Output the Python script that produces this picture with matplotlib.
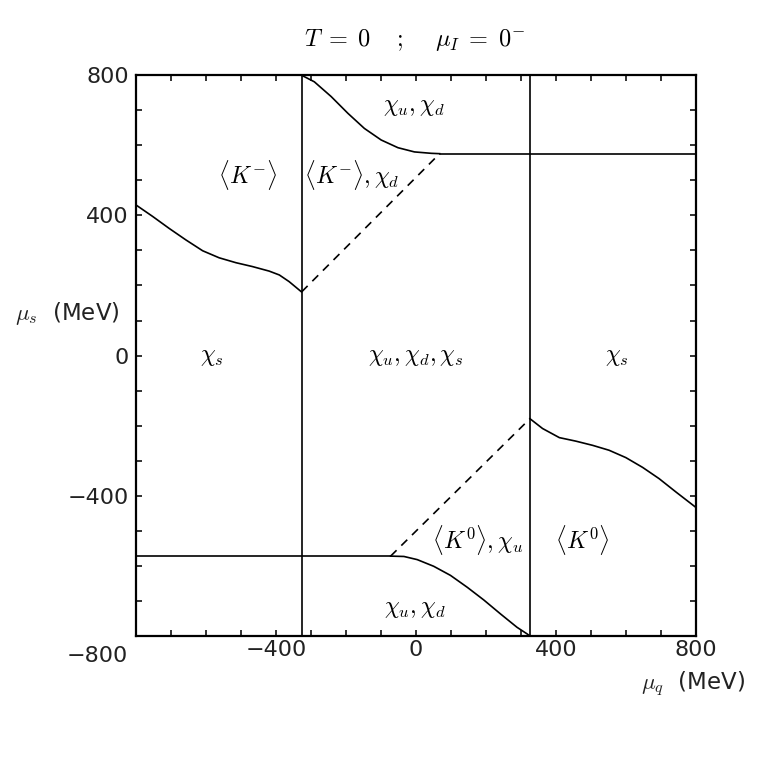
import numpy as np
import matplotlib
matplotlib.use('Agg')
import matplotlib.pyplot as plt
from matplotlib.ticker import MultipleLocator, FixedLocator

plt.rcParams['mathtext.fontset'] = 'cm'
plt.rcParams['font.family'] = ['DejaVu Sans']

# phase boundaries (MeV)
vert_x = [-326, 326]

upper_flat_x = [68, 800]
upper_flat_y = [576, 576]
lower_flat_x = [-800, -72]
lower_flat_y = [-572, -572]

# <K-> / chi_s boundary
kminus_x = [-800, -752, -705, -657, -609, -562, -514, -467, -419, -390, -362, -327]
kminus_y = [430, 397, 363, 330, 299, 279, 265, 254, 241, 230, 211, 182]

# chi_d restoration, top right of left vertical
chid_x = [-327, -290, -242, -194, -147, -99, -51, -4, 44, 68]
chid_y = [800, 781, 739, 691, 648, 615, 593, 581, 577, 576]

# <K0> / chi_s boundary
kzero_x = [326, 362, 410, 457, 505, 552, 600, 648, 695, 743, 800]
kzero_y = [-180, -208, -234, -244, -256, -270, -291, -319, -351, -389, -433]

# chi_u restoration, bottom
chiu_x = [-72, -34, 4, 51, 99, 147, 194, 242, 289, 318, 326]
chiu_y = [-572, -573, -582, -601, -627, -661, -697, -737, -775, -794, -800]

# dashed first-order lines
dash_top_x = [-326, 68]
dash_top_y = [182, 576]
dash_bot_x = [-72, 326]
dash_bot_y = [-572, -180]

region_labels = [
    (r'$\langle K^{-}\rangle$', -480, 516),
    (r'$\langle K^{-}\rangle,\chi_d$', -184, 516),
    (r'$\chi_u,\chi_d$', -6, 711),
    (r'$\chi_s$', -583, 0),
    (r'$\chi_u,\chi_d,\chi_s$', 0, 0),
    (r'$\chi_s$', 574, 0),
    (r'$\langle K^{0}\rangle,\chi_u$', 177, -527),
    (r'$\langle K^{0}\rangle$', 475, -527),
    (r'$\chi_u,\chi_d$', -3, -721),
]

xticks = [-400, 0, 400, 800]
yticks = [-400, 0, 400, 800]

fig = plt.figure(figsize=(7.63, 7.59), dpi=100)
ax = fig.add_axes([0.178, 0.162, 0.734, 0.739])

lw = 1.2
for xv in vert_x:
    ax.plot([xv, xv], [-800, 800], color='k', lw=lw)
ax.plot(upper_flat_x, upper_flat_y, color='k', lw=lw)
ax.plot(lower_flat_x, lower_flat_y, color='k', lw=lw)
for cx, cy in [(kminus_x, kminus_y), (chid_x, chid_y), (kzero_x, kzero_y), (chiu_x, chiu_y)]:
    ax.plot(cx, cy, color='k', lw=lw)
ax.plot(dash_top_x, dash_top_y, color='k', lw=lw, ls=(0, (5, 4)))
ax.plot(dash_bot_x, dash_bot_y, color='k', lw=lw, ls=(0, (5, 4)))

for txt, tx, ty in region_labels:
    ax.text(tx, ty, txt, fontsize=17, ha='center', va='center')

ax.set_xlim(-800, 800)
ax.set_ylim(-800, 800)
ax.xaxis.set_major_locator(FixedLocator(xticks))
ax.yaxis.set_major_locator(FixedLocator(yticks))
ax.xaxis.set_minor_locator(MultipleLocator(100))
ax.yaxis.set_minor_locator(MultipleLocator(100))
ax.set_xticklabels([('%d' % v).replace('-', '\u2212') for v in xticks])
ax.set_yticklabels([('%d' % v).replace('-', '\u2212') for v in yticks])
ax.tick_params(which='both', direction='in', top=True, right=True,
               length=4, width=1.3, labelsize=16, colors='#222222')
ax.tick_params(axis='x', pad=3)
ax.tick_params(axis='y', pad=5)
for sp in ax.spines.values():
    sp.set_linewidth(1.6)

# shared corner label
ax.text(-0.068, -0.036, '\u2212800', transform=ax.transAxes, fontsize=16,
        ha='center', va='center', color='#222222')

ax.text(-0.029, 121, r'$\mu_s$  (MeV)', transform=ax.get_yaxis_transform(),
        fontsize=16.5, ha='right', va='center', color='#222222')
ax.text(1.089, -0.087, r'$\mu_q$  (MeV)', transform=ax.transAxes,
        fontsize=16.5, ha='right', va='center', color='#222222')
ax.text(0.498, 1.062, r'$T\;=\;0\quad\;;\quad\;\mu_I\;=\;0^{-}$', transform=ax.transAxes,
        fontsize=17.5, ha='center', va='center')

fig.savefig('out.png', dpi=100)
